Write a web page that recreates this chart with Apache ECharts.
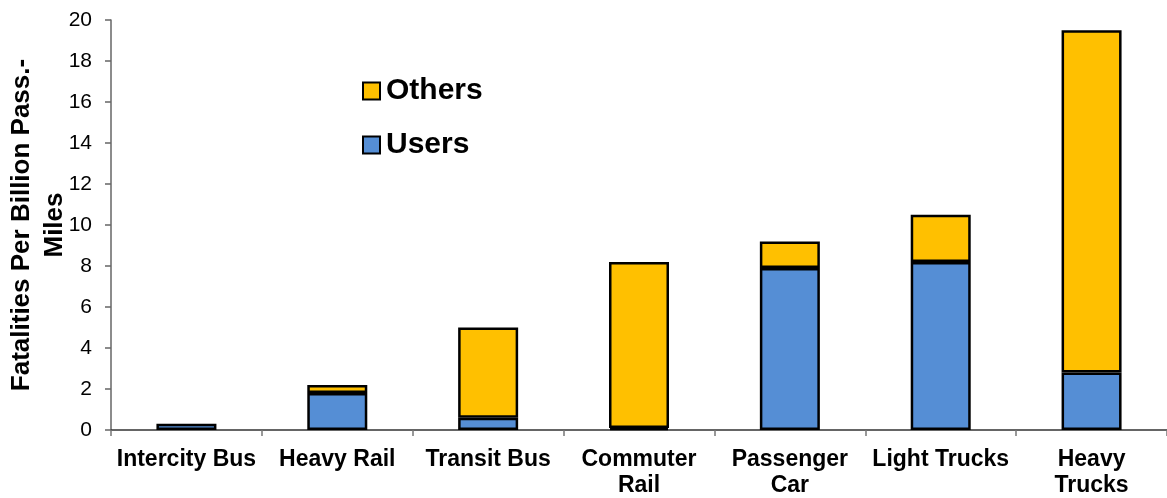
<!DOCTYPE html>
<html>
<head>
<meta charset="utf-8">
<script src="https://cdn.jsdelivr.net/npm/echarts@6/dist/echarts.min.js"></script>
<style>
  html, body { margin: 0; padding: 0; background: #fff; }
  #chart { width: 1167px; height: 498px; }
</style>
</head>
<body>
<div id="chart"></div>
<script>
// Transportation mode categories (line breaks as shown under the axis)
var categories = ['Intercity Bus', 'Heavy Rail', 'Transit Bus', 'Commuter\nRail', 'Passenger\nCar', 'Light Trucks', 'Heavy\nTrucks'];
// Fatalities per billion passenger-miles: mode users
var usersValues = [0.3, 1.8, 0.6, 0.1, 7.9, 8.2, 2.8];
// Fatalities per billion passenger-miles: others involved
var othersValues = [0.0, 0.4, 4.4, 8.1, 1.3, 2.3, 16.7];
// Y axis range / step
var yMin = 0, yMax = 20, yStep = 2;

var FONT = 'Liberation Sans, Arial, sans-serif';
var chart = echarts.init(document.getElementById('chart'), null, { renderer: 'canvas' });

// a zero-height segment would still draw its outline, so skip it
function segments(values) {
  return values.map(function (v) { return v === 0 ? '-' : v; });
}

chart.setOption({
  animation: false,
  backgroundColor: '#ffffff',
  grid: { left: 111, right: 0, top: 20, bottom: 68, containLabel: false, outerBoundsMode: 'none' },
  legend: {
    data: ['Others', 'Users'],
    orient: 'vertical',
    left: 362,
    top: 76,
    padding: 0,
    itemGap: 24,
    itemWidth: 17,
    itemHeight: 17,
    icon: 'rect',
    itemStyle: { borderColor: '#000', borderWidth: 2 },
    textStyle: { fontFamily: FONT, fontSize: 30, fontWeight: 'bold', color: '#000', padding: [0, 0, 0, 1] }
  },
  xAxis: {
    type: 'category',
    data: categories,
    boundaryGap: true,
    axisLine: { lineStyle: { color: '#333', width: 1.5 } },
    axisTick: { show: true, inside: false, length: 6, alignWithLabel: false, lineStyle: { color: '#777', width: 1.5 } },
    axisLabel: {
      interval: 0,
      margin: 17,
      fontFamily: FONT,
      fontSize: 23,
      fontWeight: 'bold',
      color: '#000',
      lineHeight: 26
    }
  },
  yAxis: {
    type: 'value',
    min: yMin,
    max: yMax,
    interval: yStep,
    name: 'Fatalities Per Billion Pass.-\nMiles',
    nameLocation: 'middle',
    nameGap: 40,
    nameMoveOverlap: false,
    nameTextStyle: { fontFamily: FONT, fontSize: 26, fontWeight: 'bold', color: '#000', lineHeight: 33, align: 'center' },
    splitLine: { show: false },
    axisLine: { show: true, lineStyle: { color: '#666', width: 1.5 } },
    axisTick: { show: true, inside: false, length: 6, lineStyle: { color: '#666', width: 1.5 } },
    axisLabel: { margin: 19, fontFamily: FONT, fontSize: 21, color: '#000' }
  },
  series: [
    {
      name: 'Users',
      type: 'bar',
      stack: 'total',
      barWidth: 60,
      data: segments(usersValues),
      itemStyle: { color: '#558ED5', borderColor: '#000', borderWidth: 2.5 }
    },
    {
      name: 'Others',
      type: 'bar',
      stack: 'total',
      barWidth: 60,
      data: segments(othersValues),
      itemStyle: { color: '#FFC000', borderColor: '#000', borderWidth: 2.5 }
    }
  ]
});
</script>
</body>
</html>
